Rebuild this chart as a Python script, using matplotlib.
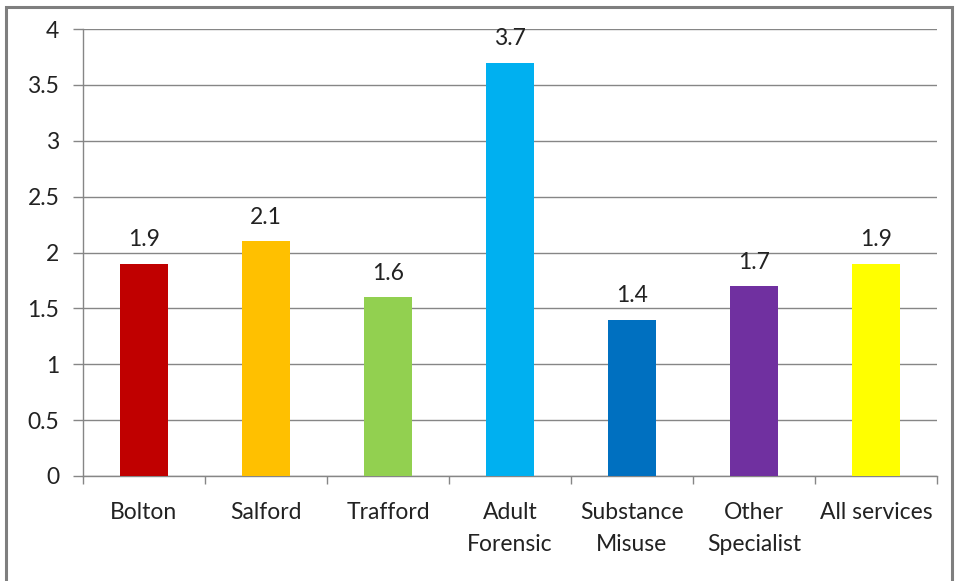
import numpy as np
import matplotlib.pyplot as plt
from matplotlib.patches import Rectangle

categories = ["Bolton", "Salford", "Trafford", "Adult\nForensic",
              "Substance\nMisuse", "Other\nSpecialist", "All services"]
values = [1.9, 2.1, 1.6, 3.7, 1.4, 1.7, 1.9]
colors = ["#C00000", "#FFC000", "#92D050", "#00B0F0",
          "#0070C0", "#7030A0", "#FFFF00"]
yticks = [0, 0.5, 1, 1.5, 2, 2.5, 3, 3.5, 4]

plt.rcParams['font.family'] = ['Lato', 'DejaVu Sans']
grid_col = "#868686"
fs = 16.5

fig = plt.figure(figsize=(9.57, 5.81), dpi=100)
# outer chart frame
fig.patches.append(Rectangle((6 / 957, -0.05), 946 / 957, 1.05 - 7 / 581,
                             transform=fig.transFigure, fill=False,
                             edgecolor="#7f7f7f", linewidth=2.2))

ax = fig.add_axes([83 / 957, 1 - 476 / 581, (937 - 83) / 957, (476 - 29) / 581])
x = np.arange(len(categories))
ax.bar(x, values, width=0.39, color=colors, zorder=3)
for xi, v in zip(x, values):
    ax.text(xi, v + 0.12, f"{v:g}", ha="center", va="bottom",
            fontsize=fs, color="#222222")

ax.set_xlim(-0.5, len(categories) - 0.5)
ax.set_ylim(0, 4)
ax.set_yticks(yticks)
ax.set_yticklabels([f"{t:g}" for t in yticks])
ax.yaxis.grid(True, color=grid_col, linewidth=1, zorder=0)
ax.tick_params(axis="y", length=7, color=grid_col, width=1, pad=10,
               labelsize=fs, labelcolor="#222222")

# category labels centred, ticks between categories
ax.set_xticks(x)
ax.set_xticklabels(categories)
ax.tick_params(axis="x", which="major", length=0, pad=19,
               labelsize=fs, labelcolor="#222222")
ax.set_xticks(np.arange(-0.5, len(categories)), minor=True)
ax.tick_params(axis="x", which="minor", length=6, color=grid_col, width=1)
for lbl in ax.get_xticklabels():
    lbl.set_linespacing(1.65)

for side in ("top", "right"):
    ax.spines[side].set_visible(False)
for side in ("left", "bottom"):
    ax.spines[side].set_color(grid_col)
    ax.spines[side].set_linewidth(1)

fig.savefig("out.png", dpi=100)
